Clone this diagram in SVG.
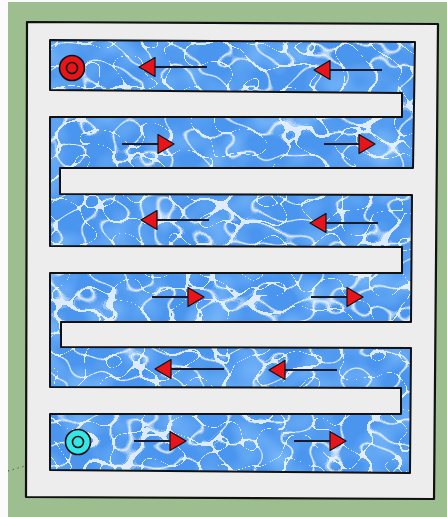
<svg xmlns="http://www.w3.org/2000/svg" width="447" height="517" viewBox="0 0 447 517">
<style>
.frame{fill:#ededed;stroke:#111;stroke-width:2.2;stroke-linejoin:round}
.water{fill:#4a95ee}
.wedge{fill:none;stroke:#111;stroke-width:2;stroke-linejoin:round}
.shaft{stroke:#1a1a2a;stroke-width:2.2;fill:none}
.port{stroke:#111;stroke-width:1.6}
</style>
<defs>
<filter id="caustic" x="0" y="0" width="1" height="1" color-interpolation-filters="sRGB">
<feTurbulence type="turbulence" baseFrequency="0.035 0.045" numOctaves="1" seed="5" result="n"/>
<feColorMatrix in="n" type="matrix" values="0 0 0 0 1  0 0 0 0 1  0 0 0 0 1  -13 0 0 0 0.8" result="w"/>
<feGaussianBlur in="w" stdDeviation="0.6" result="wb"/>
<feTurbulence type="fractalNoise" baseFrequency="0.03" numOctaves="2" seed="11" result="m"/>
<feColorMatrix in="m" type="matrix" values="0 0 0 0 0.55  0 0 0 0 0.78  0 0 0 0 1  1.4 0 0 0 -0.55" result="mc"/>
<feMerge result="all"><feMergeNode in="SourceGraphic"/><feMergeNode in="mc"/><feMergeNode in="wb"/></feMerge>
<feComposite in="all" in2="SourceAlpha" operator="in"/>
</filter>
<marker id="head" viewBox="-1 -1 18 21" refX="0" refY="9.5" markerWidth="18" markerHeight="21" markerUnits="userSpaceOnUse" orient="auto">
<path d="M0,0 L16,9.5 L0,19 Z" fill="#e8141a" stroke="#111" stroke-width="1.2" stroke-linejoin="round"/>
</marker>
</defs>
<rect x="0" y="0" width="447" height="517" fill="#fbfbfb"/>
<rect x="8" y="2" width="439" height="515" fill="#9dbe8e"/>
<path d="M8,471 L25,466" stroke="#333" stroke-width="1" stroke-dasharray="1 4" fill="none"/>
<g id="frame">
<path class="frame" d="M27,22 L438,24 L434,499 L26,497 Z"/>
</g>
<g id="channel">
<path class="water" filter="url(#caustic)" d="M50,40 L415,42 L413,168 L60,168 L60,194 L412,195 L411,322 L61,322 L61,347 L411,348 L410,473 L50,470 L50,414 L401,414 L401,388 L50,387 L50,273 L402,273 L402,247 L50,246 L50,117 L402,117 L402,93 L50,90 Z"/>
<path class="wedge" d="M50,40 L415,42 L413,168 L60,168 L60,194 L412,195 L411,322 L61,322 L61,347 L411,348 L410,473 L50,470 L50,414 L401,414 L401,388 L50,387 L50,273 L402,273 L402,247 L50,246 L50,117 L402,117 L402,93 L50,90 Z"/>
</g>
<g id="outlet">
<circle class="port" cx="72" cy="68" r="12.5" fill="#e8141a"/>
<circle class="port" cx="72" cy="68" r="5.5" fill="#e8141a"/>
</g>
<g id="inlet">
<circle class="port" cx="78" cy="442" r="12.5" fill="#34e6e6"/>
<circle class="port" cx="78" cy="442" r="5.5" fill="#34e6e6"/>
</g>
<g id="connectors">
<line class="shaft" x1="207" y1="67" x2="155" y2="67" marker-end="url(#head)"/>
<line class="shaft" x1="382" y1="70" x2="330" y2="70" marker-end="url(#head)"/>
<line class="shaft" x1="122" y1="144" x2="158" y2="144" marker-end="url(#head)"/>
<line class="shaft" x1="324" y1="144" x2="359" y2="144" marker-end="url(#head)"/>
<line class="shaft" x1="209" y1="220" x2="157" y2="220" marker-end="url(#head)"/>
<line class="shaft" x1="378" y1="223" x2="326" y2="223" marker-end="url(#head)"/>
<line class="shaft" x1="152" y1="297" x2="188" y2="297" marker-end="url(#head)"/>
<line class="shaft" x1="311" y1="297" x2="347" y2="297" marker-end="url(#head)"/>
<line class="shaft" x1="224" y1="369" x2="171" y2="369" marker-end="url(#head)"/>
<line class="shaft" x1="337" y1="370" x2="285" y2="370" marker-end="url(#head)"/>
<line class="shaft" x1="134" y1="441" x2="170" y2="441" marker-end="url(#head)"/>
<line class="shaft" x1="294" y1="441" x2="330" y2="441" marker-end="url(#head)"/>
</g>
</svg>
